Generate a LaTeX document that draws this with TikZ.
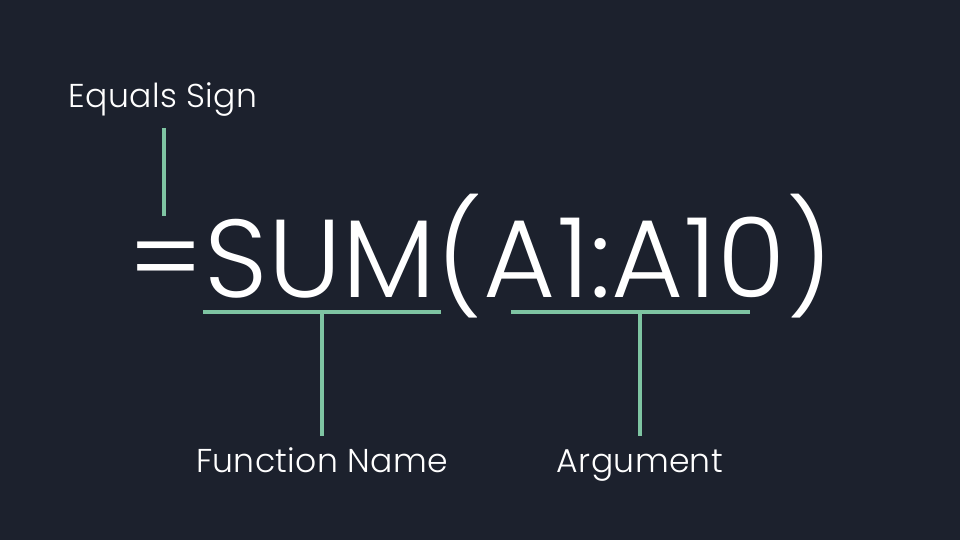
\documentclass[tikz,border=0pt]{standalone}
\usepackage{fontspec}
\setmainfont{Poppins Light}
\usepackage{xcolor}
\usepackage{tikz}

\definecolor{bgdark}{HTML}{1C212D}
\definecolor{mint}{HTML}{7EC4A2}

\tikzset{
    bracket/.style={draw=mint, line width=1.15pt},
    tag/.style={text=white, font=\fontsize{9.4}{11}\selectfont\addfontfeature{LetterSpace=1}, inner sep=0pt, anchor=base},
}

\begin{document}
\begin{tikzpicture}
    % Background
    \fill[bgdark] (0,0) rectangle (9.6,5.4);
    \useasboundingbox (0,0) rectangle (9.6,5.4);

    % Formula
    \node[text=white, font=\fontsize{31.5}{35}\selectfont\addfontfeature{LetterSpace=0.8}, inner sep=0pt, anchor=base] (formula) at (4.81,2.42) {=SUM(A1:A10)};

    % Equals sign marker
    \node[tag] (eqlabel) at (1.63,4.32) {Equals Sign};
    \coordinate (eqtop) at (1.64,4.12);
    \coordinate (eqbot) at (1.64,3.24);
    \draw[bracket] (eqtop) -- (eqbot);

    % Function name bracket
    \coordinate (fnleft) at (2.03,2.28);
    \coordinate (fnright) at (4.41,2.28);
    \coordinate (fnmid) at (3.22,2.28);
    \coordinate (fnend) at (3.22,1.04);
    \draw[bracket] (fnleft) -- (fnright);
    \draw[bracket] (fnmid) -- (fnend);
    \node[tag] (fnlabel) at (3.22,0.673) {Function Name};

    % Argument bracket
    \coordinate (argleft) at (5.11,2.28);
    \coordinate (argright) at (7.50,2.28);
    \coordinate (argmid) at (6.40,2.28);
    \coordinate (argend) at (6.40,1.04);
    \draw[bracket] (argleft) -- (argright);
    \draw[bracket] (argmid) -- (argend);
    \node[tag] (arglabel) at (6.40,0.673) {Argument};

\end{tikzpicture}
\end{document}
